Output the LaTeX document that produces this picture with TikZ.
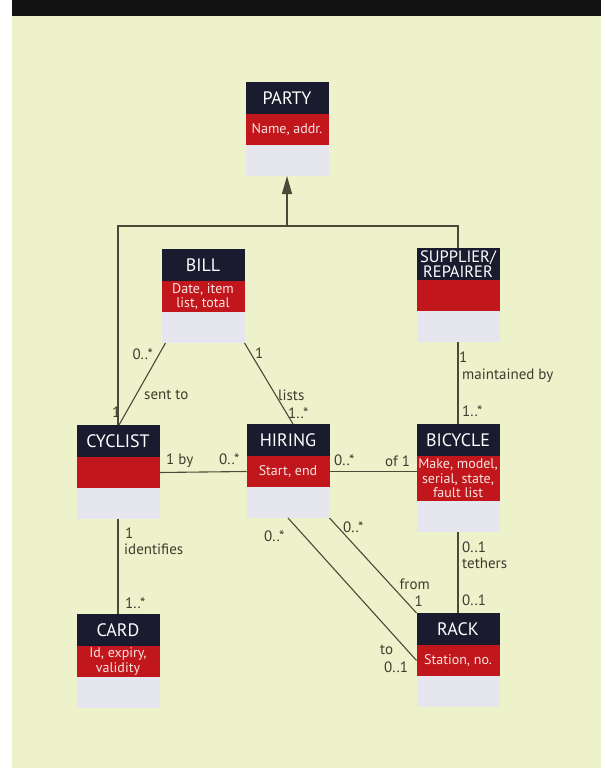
\documentclass[tikz,border=0pt]{standalone}
\usepackage{fontspec}
\setmainfont{PT Sans}
\usetikzlibrary{arrows.meta, positioning}
\definecolor{bandblack}{HTML}{121212}
\definecolor{paleyellow}{HTML}{EEF2CA}
\definecolor{hdrnavy}{HTML}{1B1B30}
\definecolor{attrred}{HTML}{C0161C}
\definecolor{blankgray}{HTML}{E6E6EE}
\definecolor{linegray}{HTML}{4A4A38}
\definecolor{labelgray}{HTML}{3C3C30}
\definecolor{attrtext}{HTML}{F8E4E0}

\begin{document}
\begin{tikzpicture}[
    x=1pt, y=-1pt,
    hdr/.style={fill=hdrnavy, text=white, minimum width=83pt, minimum height=32pt, inner sep=1pt, outer sep=0pt, align=center, anchor=north, font=\fontsize{18}{15}\selectfont},
    attr/.style={fill=attrred, text=attrtext, minimum width=83pt, minimum height=31pt, inner sep=1pt, outer sep=0pt, align=center, font=\fontsize{14}{14.5}\selectfont},
    blank/.style={fill=blankgray, minimum width=83pt, minimum height=31pt, inner sep=0pt, outer sep=0pt},
    mult/.style={font=\fontsize{15}{15}\selectfont, text=labelgray, inner sep=0pt},
    conn/.style={draw=linegray, line width=1.1pt},
    genarrow/.style={-{Triangle[length=18pt, width=10pt]}, draw=linegray, fill=linegray, line width=1.1pt},
]
\useasboundingbox (0,0) rectangle (601,768);

% Page
\fill[white] (0,0) rectangle (601,768);
\fill[paleyellow] (12,16) rectangle (601,768);
\fill[bandblack] (12,0) rectangle (601,16);

% PARTY
\node[hdr] (party) at (287,82) {PARTY};
\node[attr, below=0pt of party] (partyA) {Name, addr.};
\node[blank, below=0pt of partyA] (partyB) {};

% BILL
\node[hdr] (bill) at (203,249) {BILL};
\node[attr, below=0pt of bill] (billA) {Date, item\\list, total};
\node[blank, below=0pt of billA] (billB) {};

% SUPPLIER/REPAIRER
\node[hdr, font=\fontsize{16.5}{15}\selectfont] (sup) at (458,248) {SUPPLIER/\\REPAIRER};
\node[attr, below=0pt of sup] (supA) {};
\node[blank, below=0pt of supA] (supB) {};

% CYCLIST
\node[hdr] (cyc) at (118,425) {CYCLIST};
\node[attr, below=0pt of cyc] (cycA) {};
\node[blank, below=0pt of cycA] (cycB) {};

% HIRING
\node[hdr] (hir) at (288,424) {HIRING};
\node[attr, below=0pt of hir] (hirA) {Start, end};
\node[blank, below=0pt of hirA] (hirB) {};

% BICYCLE
\node[hdr] (bic) at (458,424) {BICYCLE};
\node[attr, minimum height=45pt, below=0pt of bic] (bicA) {Make, model,\\serial, state,\\fault list};
\node[blank, below=0pt of bicA] (bicB) {};

% CARD
\node[hdr] (card) at (118,614) {CARD};
\node[attr, below=0pt of card] (cardA) {Id, expiry,\\validity};
\node[blank, below=0pt of cardA] (cardB) {};

% RACK
\node[hdr] (rack) at (458,613) {RACK};
\node[attr, below=0pt of rack] (rackA) {Station, no.};
\node[blank, below=0pt of rackA] (rackB) {};

% Generalisation
\coordinate (gen) at (287,226);
\draw[conn] (cyc.north) |- (gen) -| (sup.north);
\draw[genarrow] (gen) -- (partyB.south);

% Associations
\draw[conn] ([xshift=1pt]cyc.north) -- ([xshift=4pt]billB.south west);
\draw[conn] (billB.south east) -- ([xshift=5pt]hir.north);
\draw[conn] (cycA.east) -- (hirA.west);
\draw[conn] (hirA.east) -- (hirA.east -| bicA.west);
\draw[conn] (supB.south) -- (bic.north);
\draw[conn] (cycB.south) -- (card.north);
\draw[conn] (bicB.south) -- (rack.north);
\draw[conn] (hirB.south) -- (rackA.west);
\draw[conn] (hirB.south east) -- (rack.north west);

% Multiplicities and roles
\node[mult, anchor=east] (mBillCyc) at (153,354) {0..*};
\node[mult, anchor=west] (mSentTo) at (144,395) {sent to};
\node[mult, anchor=west] (mCycBill) at (112,412) {1};
\node[mult, anchor=west] (mBillHir) at (255,353) {1};
\node[mult, anchor=west] (mLists) at (278,395) {lists};
\node[mult, anchor=west] (mHirBill) at (288,413) {1..*};
\node[mult, anchor=west] (mBy) at (166,461) {1 by};
\node[mult, anchor=west] (mHirCyc) at (219,459) {0..*};
\node[mult, anchor=west] (mHirBic) at (334,460) {0..*};
\node[mult, anchor=west] (mOf) at (385,461) {of 1};
\node[mult, anchor=west] (mSupBic) at (459,357) {1};
\node[mult, anchor=west] (mMaint) at (462,376) {maintained by};
\node[mult, anchor=west] (mBicSup) at (462,411) {1..*};
\node[mult, anchor=west] (mCycCard) at (125,533) {1};
\node[mult, anchor=west] (mIdent) at (124,549) {identifies};
\node[mult, anchor=west] (mCardCyc) at (125,603) {1..*};
\node[mult, anchor=west] (mHirRackA) at (264,536) {0..*};
\node[mult, anchor=west] (mHirRackB) at (343,527) {0..*};
\node[mult, anchor=east] (mFrom) at (430,584) {from};
\node[mult, anchor=east] (mRackFrom) at (423,601) {1};
\node[mult, anchor=west] (mTo) at (380,650) {to};
\node[mult, anchor=west] (mRackTo) at (384,667) {0..1};
\node[mult, anchor=west] (mBicRack) at (462,547) {0..1};
\node[mult, anchor=west] (mTethers) at (462,563) {tethers};
\node[mult, anchor=west] (mRackBic) at (462,600) {0..1};

\end{tikzpicture}
\end{document}
